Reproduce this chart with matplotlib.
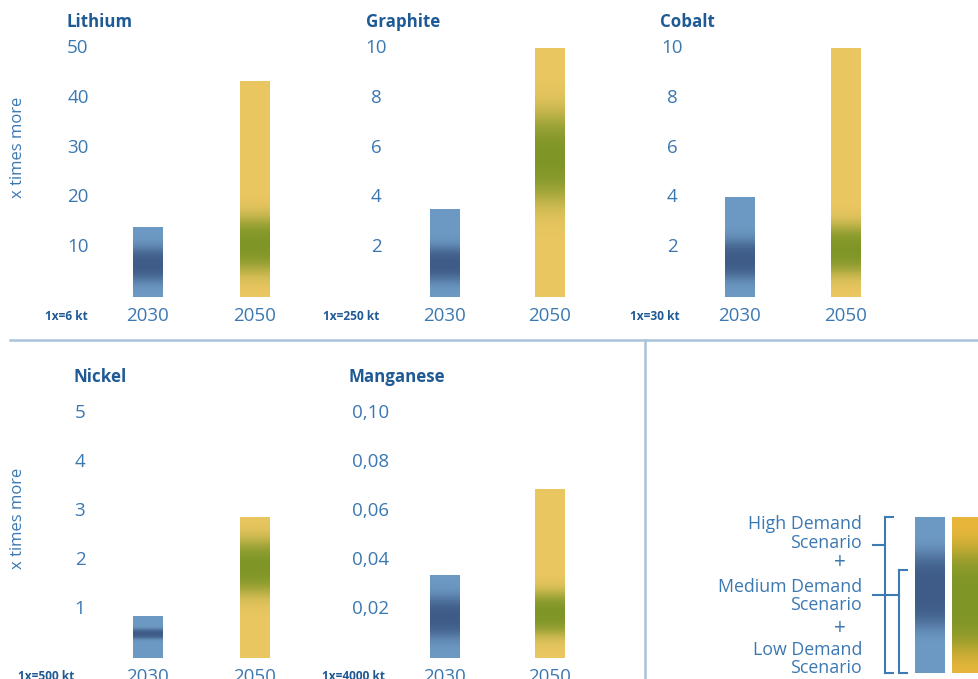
import numpy as np
import matplotlib
matplotlib.use('Agg')
import matplotlib.pyplot as plt
from matplotlib.colors import to_rgb
from matplotlib.lines import Line2D

plt.rcParams['font.family'] = ['Open Sans', 'DejaVu Sans']

W, H = 979, 679

# ---------------- data ----------------
years = ['2030', '2050']
minerals = ['Lithium', 'Graphite', 'Cobalt', 'Nickel', 'Manganese']
units = ['1x=6 kt', '1x=250 kt', '1x=30 kt', '1x=500 kt', '1x=4000 kt']
axis_max = [50, 10, 10, 5, 0.10]
yticks = [[10, 20, 30, 40, 50], [2, 4, 6, 8, 10], [2, 4, 6, 8, 10],
          [1, 2, 3, 4, 5], [0.02, 0.04, 0.06, 0.08, 0.10]]
ytick_labels = [['10', '20', '30', '40', '50'], ['2', '4', '6', '8', '10'],
                ['2', '4', '6', '8', '10'], ['1', '2', '3', '4', '5'],
                ['0,02', '0,04', '0,06', '0,08', '0,10']]
# bar tops (high demand scenario)
high_2030 = [14.0, 3.55, 4.0, 0.85, 0.034]
high_2050 = [43.4, 10.0, 10.0, 2.88, 0.069]
# darker band (medium / low scenario range)
band_2030_lo = [3.5, 0.70, 0.80, 0.40, 0.009]
band_2030_hi = [9.6, 1.95, 2.20, 0.58, 0.024]
band_2050_lo = [5.5, 4.0, 1.0, 1.35, 0.010]
band_2050_hi = [15.5, 7.2, 2.8, 2.35, 0.026]

# ---------------- styles ----------------
BLUE_LIGHT = '#6D9AC4'
BLUE_DARK = '#3E5C87'
YEL_LIGHT = '#EBC761'
GREEN_DARK = '#7F9627'
TXT = '#3B78B2'
TITLE = '#1F5A95'
DIV = '#A8C3DB'

# panel layout in pixels: tick-label centre x, bar centres, zero y, top y
layout = [
    dict(lc=78, c1=148, c2=255, y0=297, yt=48, title=(67, 22), unit=(66, 316)),
    dict(lc=376, c1=445, c2=550, y0=297, yt=48, title=(366, 22), unit=(351, 316)),
    dict(lc=672, c1=740, c2=846, y0=297, yt=48, title=(660, 22), unit=(655, 316)),
    dict(lc=80, c1=148, c2=255, y0=658, yt=413, title=(74, 377), unit=(46, 676)),
    dict(lc=371, c1=445, c2=550, y0=658, yt=413, title=(349, 377), unit=(353, 676)),
]

fig = plt.figure(figsize=(W / 100, H / 100), dpi=100)


def fx(x):
    return x / W


def fy(y):
    return 1 - y / H


def gradient_bar(ax, x, width, top, lo, hi, light, dark):
    bars = ax.bar([x], [top], width=width, color=light, linewidth=0, zorder=2)
    patch = bars.patches[0]
    n = 400
    yy = np.linspace(0, top, n)
    f = 0.25 * (hi - lo)
    w = 0.5 * (1 + np.tanh((yy - lo) / f)) * 0.5 * (1 + np.tanh((hi - yy) / f))
    w = w / max(w.max(), 1e-9)
    c0 = np.array(to_rgb(light))
    c1 = np.array(to_rgb(dark))
    img = (c0[None, :] * (1 - w[:, None]) + c1[None, :] * w[:, None])
    img = np.repeat(img[:, None, :], 4, axis=1)
    im = ax.imshow(img, extent=[x - width / 2, x + width / 2, 0, top],
                   origin='lower', aspect='auto', interpolation='bilinear', zorder=3)
    im.set_clip_path(patch)


for i, m in enumerate(minerals):
    L = layout[i]
    ppu = L['c2'] - L['c1']
    left_px = L['lc'] + 22
    right_px = L['c2'] + 55
    ax = fig.add_axes([fx(left_px), fy(L['y0']), (right_px - left_px) / W,
                       (L['y0'] - L['yt']) / H])
    bw = 30 / ppu
    gradient_bar(ax, 0, bw, high_2030[i], band_2030_lo[i], band_2030_hi[i],
                 BLUE_LIGHT, BLUE_DARK)
    gradient_bar(ax, 1, bw, high_2050[i], band_2050_lo[i], band_2050_hi[i],
                 YEL_LIGHT, GREEN_DARK)
    ax.set_xlim((left_px - L['c1']) / ppu, (right_px - L['c1']) / ppu)
    ax.set_ylim(0, axis_max[i])
    for s in ax.spines.values():
        s.set_visible(False)
    ax.set_yticks(yticks[i])
    ax.set_yticklabels(ytick_labels[i], fontsize=13.5, color=TXT)
    ax.tick_params(axis='y', length=0, pad=22 * 0.72)
    for lab in ax.get_yticklabels():
        lab.set_ha('center')
        lab.set_va('center')
    ax.set_xticks([0, 1])
    ax.set_xticklabels(years, fontsize=13.5, color=TXT)
    ax.tick_params(axis='x', length=0, pad=7)
    ax.patch.set_alpha(0)

    tx, ty = L['title']
    fig.text(fx(tx), fy(ty), m, fontsize=12.2, fontweight='bold', color=TITLE,
             ha='left', va='center')
    ux, uy = L['unit']
    fig.text(fx(ux), fy(uy), units[i], fontsize=8.6, fontweight='bold', color=TITLE,
             ha='center', va='center')

# y-axis labels
fig.text(fx(18), fy(147), 'x times more', rotation=90, fontsize=12, color=TXT,
         ha='center', va='center')
fig.text(fx(18), fy(518), 'x times more', rotation=90, fontsize=12, color=TXT,
         ha='center', va='center')

# dividers
fig.add_artist(Line2D([fx(10), fx(979)], [fy(340), fy(340)], color=DIV, lw=1.8))
fig.add_artist(Line2D([fx(645), fx(645)], [fy(340), fy(679)], color=DIV, lw=1.8))

# ---------------- legend ----------------
leg_texts = [('High Demand', 524), ('Scenario', 543), ('+', 563),
             ('Medium Demand', 587), ('Scenario', 605), ('+', 628),
             ('Low Demand', 650), ('Scenario', 668)]
for t, y in leg_texts:
    if t == '+':
        fig.text(fx(840), fy(y), t, fontsize=15, color=TXT, ha='center', va='center')
    else:
        fig.text(fx(862), fy(y), t, fontsize=12.8, color=TXT, ha='right', va='center')

BR = '#3F7AB3'
segs = [
    ([885, 885], [517, 673]), ([885, 893], [517, 517]), ([885, 893], [673, 673]),
    ([873, 885], [545, 545]),
    ([899, 899], [570, 673]), ([899, 907], [570, 570]), ([899, 907], [673, 673]),
    ([873, 899], [595, 595]),
]
for xs, ys in segs:
    fig.add_artist(Line2D([fx(v) for v in xs], [fy(v) for v in ys], color=BR, lw=1.5))

lax = fig.add_axes([fx(910), fy(679), fx(979) - fx(910), (679 - 510) / H])
lax.set_xlim(910, 979)
lax.set_ylim(679, 510)
lax.axis('off')
yy = np.linspace(517, 673, 300)


def legend_grad(center, half, light, dark):
    w = np.exp(-((yy - center) / half) ** 4)
    c0 = np.array(to_rgb(light))
    c1 = np.array(to_rgb(dark))
    img = c0[None, :] * (1 - w[:, None]) + c1[None, :] * w[:, None]
    return np.repeat(img[:, None, :], 4, axis=1)


lax.imshow(legend_grad(590, 38, BLUE_LIGHT, BLUE_DARK), extent=[915, 945, 673, 517],
           origin='upper', aspect='auto', interpolation='bilinear')
lax.imshow(legend_grad(600, 52, '#E8B63B', GREEN_DARK), extent=[952, 985, 673, 517],
           origin='upper', aspect='auto', interpolation='bilinear')
lax.set_xlim(910, 979)
lax.set_ylim(679, 510)

fig.savefig('out.png', dpi=100)
